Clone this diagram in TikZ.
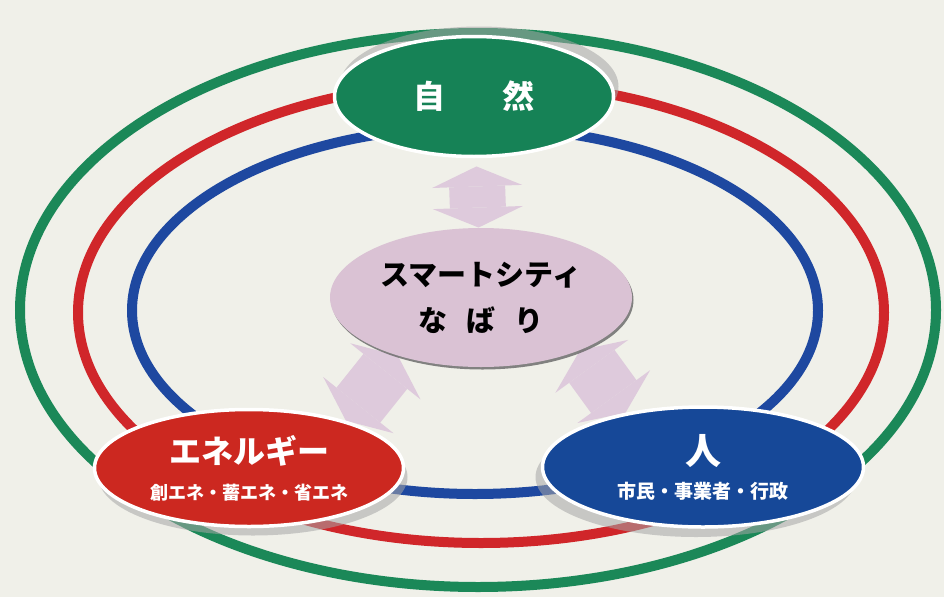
\documentclass[tikz,border=0pt]{standalone}
\usepackage{fontspec}
\newfontfamily\jp{Noto Sans CJK JP}
\usetikzlibrary{shapes.geometric,arrows.meta,shadows}
\definecolor{paper}{RGB}{240,240,233}
\definecolor{ringgreen}{RGB}{27,136,88}
\definecolor{ringred}{RGB}{208,38,42}
\definecolor{ringblue}{RGB}{30,72,160}
\definecolor{natgreen}{RGB}{22,130,86}
\definecolor{enered}{RGB}{204,40,32}
\definecolor{peopleblue}{RGB}{22,72,152}
\definecolor{citypink}{RGB}{218,194,212}
\definecolor{linkpink}{RGB}{222,202,220}
\pgfdeclarelayer{back}
\pgfsetlayers{back,main}

\begin{document}
\begin{tikzpicture}[x=1pt,y=-1pt,
  ring/.style={line width=10pt},
  hub/.style={ellipse,draw=white,line width=3.5pt,inner sep=0pt,align=center,text=white,font=\jp\bfseries},
  link/.style={draw=linkpink,line width=56pt,
    {Triangle[width=90pt,length=20pt,line width=0pt]}-{Triangle[width=90pt,length=20pt,line width=0pt]}}]
\useasboundingbox (0,0) rectangle (944,597);
\node[hub,fill=natgreen,minimum width=279pt,minimum height=120pt,
  drop shadow={shadow xshift=5pt,shadow yshift=10pt,fill=black!35,opacity=.55}] (shizen) at (474,96.5)
  {\fontsize{32pt}{32pt}\selectfont 自\hspace{58pt}然};
\node[ellipse,fill=citypink,inner sep=0pt,minimum width=302pt,minimum height=139pt,align=center,
  font=\jp\bfseries\fontsize{29pt}{46pt}\selectfont,
  drop shadow={shadow xshift=1.5pt,shadow yshift=-2.5pt,fill=black!60,opacity=.8}] (city) at (481,297.5)
  {スマートシティ\\な\hspace{0.65em}ば\hspace{0.65em}り};
\node[hub,fill=enered,minimum width=309pt,minimum height=117pt,
  font=\jp\bfseries\fontsize{18pt}{36pt}\selectfont,
  drop shadow={shadow xshift=4pt,shadow yshift=-9pt,fill=black!35,opacity=.55}] (energy) at (249,468)
  {{\fontsize{32pt}{36pt}\selectfont エネルギー}\\創エネ・蓄エネ・省エネ};
\node[hub,fill=peopleblue,minimum width=321pt,minimum height=120pt,
  font=\jp\bfseries\fontsize{19pt}{34pt}\selectfont,
  drop shadow={shadow xshift=-7pt,shadow yshift=-10pt,fill=black!35,opacity=.55}] (hito) at (703,467)
  {{\fontsize{36pt}{36pt}\selectfont 人}\\市民・事業者・行政};
\begin{pgfonlayer}{back}
\fill[paper] (0,0) rectangle (944,597);
\draw[ring,ringgreen] (478,310) ellipse [x radius=458,y radius=277];
\draw[ring,ringred] (481,312.5) ellipse [x radius=403,y radius=230.5];
\draw[ring,ringblue] (475,310.5) ellipse [x radius=343,y radius=183.5];
\draw[link,shorten <=70pt,shorten >=70pt] (city.center) -- (shizen.center);
\draw[link] (city.215) -- (energy.26);
\draw[link] (city.-28) -- (hito.145);
\end{pgfonlayer}
\end{tikzpicture}
\end{document}
